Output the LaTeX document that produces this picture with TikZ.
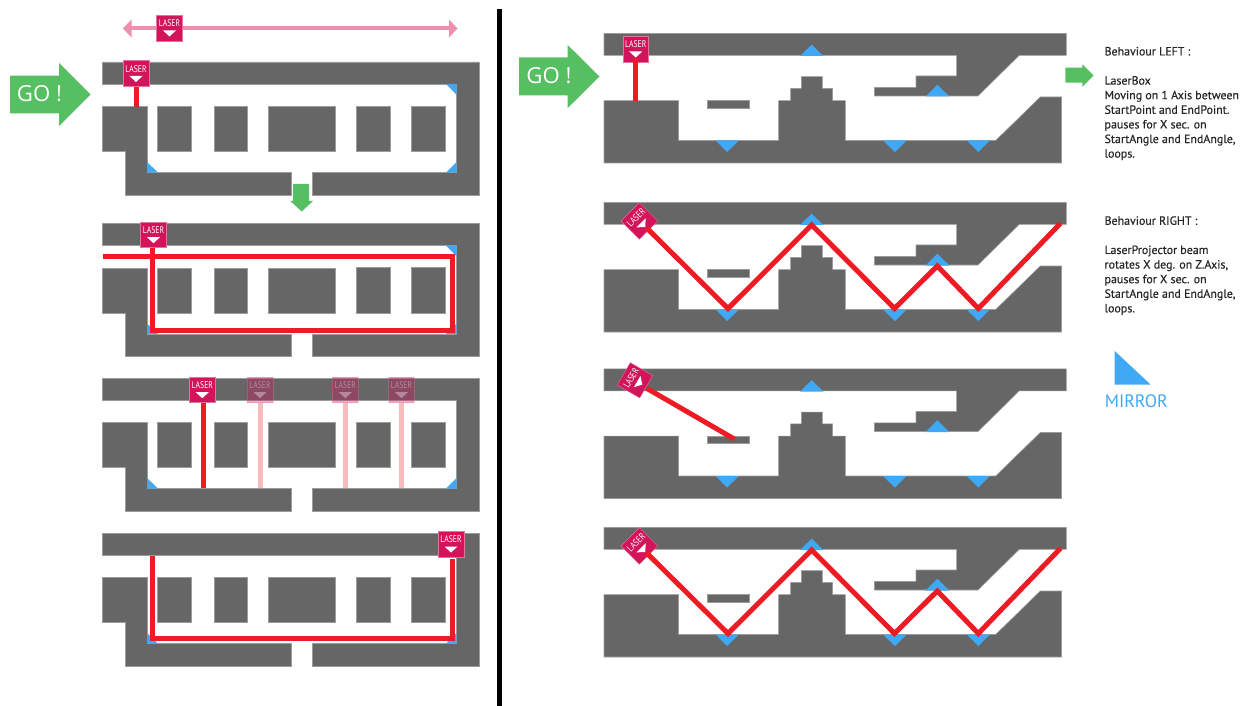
\documentclass[tikz,border=0pt]{standalone}
\usepackage{fontspec}
\setmainfont{PT Sans}
\newfontfamily\gofont{Open Sans}
\newfontfamily\notefont[FakeBold=0.45]{PT Sans}
\definecolor{wallgray}{HTML}{666666}
\definecolor{laserpink}{HTML}{D4145A}
\definecolor{beamred}{HTML}{ED1C24}
\definecolor{railpink}{HTML}{EE8FAE}
\definecolor{gogreen}{HTML}{55BF62}
\definecolor{mirrorblue}{HTML}{3FA9F5}
\tikzset{
  wall/.style={fill=wallgray,draw=wallgray!65,line width=.4pt},
  mirror/.style={fill=mirrorblue},
  beam/.style={draw=beamred,line width=3.75pt},
  ghostbeam/.style={draw=beamred!30,line width=3.75pt},
  go/.style={fill=gogreen},
  gotext/.style={text=white,font=\gofont\fontsize{16.6}{16.6}\selectfont},
  lasertext/.style={text=white,inner sep=0pt,font=\fontsize{7.2}{7.2}\selectfont},
  laserbox/.style={fill=laserpink,draw=laserpink!60,line width=.3pt,minimum size=19.4pt,inner sep=0pt},
  laser/.pic={
    \node[laserbox,transform shape] (-box) {};
    \node[lasertext,transform shape] (-txt) at (0,-4.5) {\scalebox{.8}[1]{LASER}};
    \fill[white] (-6.5,2.5)--(6.5,2.5)--(0,8.5)--cycle;
  },
  note/.style={anchor=north west,align=left,inner sep=0pt,text=black!85,
    font=\notefont\fontsize{8.95}{10.95}\selectfont}
}
\begin{document}
\begin{tikzpicture}[x=.75pt,y=-.75pt]
\useasboundingbox (0,0) rectangle (1250,706);
\draw[line width=3.75pt] (499,9)--(499,706);
% left column
\draw[railpink,line width=3pt] (128,28.5)--(452,28.5);
\fill[railpink] (123,28.5)--(131.5,19.5)--(131.5,37.5)--cycle;
\fill[railpink] (457.5,28.5)--(449,19.5)--(449,37.5)--cycle;
\pic (railbox) at (169.5,28) {laser};
\fill[go] (10,75.7)--(59,75.7)--(59,63)--(90.7,94.5)--(59,126)--(59,113.3)--(10,113.3)--cycle;
\node[gotext] (goleft) at (39.5,94) {GO !};
\foreach \dy in {0,161.5,316,471}{
\begin{scope}[shift={(0,\dy)}]
\draw[wall] (102.5,62)--(479,62)--(479,195)--(312.7,195)--(312.7,172.5)--(456.7,172.5)--(456.7,84)--(102.5,84)--cycle;
\draw[wall] (102.5,106.7)--(147,106.7)--(147,172.5)--(291,172.5)--(291,195)--(125,195)--(125,151.3)--(102.5,151.3)--cycle;
\draw[wall] (157,106.7) rectangle (191,151.3);
\draw[wall] (214,106.7) rectangle (247,151.3);
\draw[wall] (268.7,106.7) rectangle (335,151.3);
\draw[wall] (356,106) rectangle (390,151.3);
\draw[wall] (411.5,106) rectangle (445,151.3);
\fill[mirror] (147,162)--(147,172.5)--(158,172.5)--cycle;
\fill[mirror] (446,172.5)--(456.7,172.5)--(456.7,162)--cycle;
\end{scope}
}
\fill[mirror] (446,84)--(456.7,84)--(456.7,95)--cycle;
\fill[mirror] (446,245.5)--(456.7,245.5)--(456.7,256.5)--cycle;
\fill[go] (293,184)--(309,184)--(309,201)--(313,201)--(301.7,211.5)--(290.3,201)--(293,201)--cycle;
% level 1
\pic (las1) at (136,73.5) {laser};
\coordinate (end1) at (136,106.7);
\draw[beam] (las1-box.south)--(end1);
% level 2
\coordinate (in2) at (102.5,257);
\coordinate (c2a) at (452.5,257);
\coordinate (c2b) at (452.5,330);
\coordinate (c2c) at (152.7,330);
\pic (las2) at (153.5,234.7) {laser};
\draw[beam] (in2)--(c2a)--(c2b)--(c2c)--(c2c|-las2-box.south);
% level 3
\foreach \lx/\ln in {260/g1,345.3/g2,401.5/g3}{
  \pic[opacity=.35] (\ln) at (\lx,389.7) {laser};
  \coordinate (\ln end) at (\lx,488.3);
  \draw[ghostbeam] (\ln-box.south)--(\ln end);
}
\pic (las3) at (202.3,389.7) {laser};
\coordinate (end3) at (203,488.3);
\draw[beam] (end3|-las3-box.south)--(end3);
% level 4
\pic (las4) at (451,544) {laser};
\coordinate (c4a) at (452.3,638);
\coordinate (c4b) at (152,638);
\coordinate (c4c) at (152,555.7);
\coordinate (c4d) at (452.3,559);
\draw[beam] (c4d)--(c4a)--(c4b)--(c4c);
% right column
\fill[go] (519,57.3)--(567.7,57.3)--(567.7,45)--(599.5,76.5)--(567.7,108)--(567.7,95.3)--(519,95.3)--cycle;
\node[gotext] (goright) at (549,76) {GO !};
\foreach \dy in {0,169,335.5,494}{
\begin{scope}[shift={(0,\dy)}]
\draw[wall] (604,33.3)--(1066.3,33.3)--(1066.3,55.3)--(1019.3,55.3)--(978,96)--(874.3,96)--(874.3,87.3)--(916,87.3)--(916,76)--(956.7,76)--(956.7,55.3)--(604,55.3)--cycle;
\draw[wall] (604,100.7)--(678.7,100.7)--(678.7,140.5)--(778.7,140.5)--(778.7,100.7)--(790.7,100.7)--(790.7,88.3)--(801.3,88.3)--(801.3,76.7)--(822.3,76.7)--(822.3,88.3)--(832.7,88.3)--(832.7,100.7)--(845.3,100.7)--(845.3,140.5)--(995.7,140.5)--(1040.3,97)--(1061.7,97)--(1061.7,163)--(604,163)--cycle;
\draw[wall] (707.3,100.7) rectangle (749.3,108);
\fill[mirror] (800,56)--(823.3,56)--(811.7,44.7)--cycle;
\fill[mirror] (925.7,96.5)--(949.3,96.5)--(937.3,84.7)--cycle;
\fill[mirror] (715.7,140.5)--(739,140.5)--(727,152)--cycle;
\fill[mirror] (883,140.5)--(906.7,140.5)--(895,152)--cycle;
\fill[mirror] (966.7,140.5)--(990,140.5)--(978.3,152)--cycle;
\end{scope}
}
% level 1
\pic (rlas1) at (635.7,49) {laser};
\coordinate (rend1) at (635.4,100.7);
\coordinate (rstart1) at (635.4,59);
\draw[beam] (rstart1)--(rend1);
% level 2
\pic[rotate=45] (rlas2) at (639.3,221) {laser};
\coordinate (r2a) at (646.7,228);
\coordinate (r2b) at (728,308.5);
\coordinate (r2c) at (811.7,225);
\coordinate (r2d) at (894.5,308.5);
\coordinate (r2e) at (937.3,266);
\coordinate (r2f) at (978.3,308.5);
\coordinate (r2g) at (1060.5,223.3);
\draw[beam] (r2a)--(r2b)--(r2c)--(r2d)--(r2e)--(r2f)--(r2g);
% level 3
\pic[rotate=60] (rlas3) at (635,380.3) {laser};
\coordinate (r3a) at (646.7,388.3);
\coordinate (r3b) at (734.3,439);
\draw[beam] (r3a)--(r3b);
% level 4
\pic[rotate=45] (rlas4) at (639.3,546) {laser};
\coordinate (r4a) at (646.7,553);
\coordinate (r4b) at (728,633.5);
\coordinate (r4c) at (811.7,550);
\coordinate (r4d) at (894.5,633.5);
\coordinate (r4e) at (937.3,591);
\coordinate (r4f) at (978.3,633.5);
\coordinate (r4g) at (1060.5,548.3);
\draw[beam] (r4a)--(r4b)--(r4c)--(r4d)--(r4e)--(r4f)--(r4g);
% notes
\fill[go] (1065.3,67.7)--(1082.3,67.7)--(1082.3,64.3)--(1093.7,75.5)--(1082.3,86.7)--(1082.3,82.7)--(1065.3,82.7)--cycle;
\node[note] (noteleft) at (1104.3,46.7) {Behaviour LEFT :\\[10.95pt]LaserBox\\Moving on 1 Axis between\\StartPoint and EndPoint.\\pauses for X sec. on\\StartAngle and EndAngle,\\loops.};
\node[note] (noteright) at (1104.3,216) {Behaviour RIGHT :\\[10.95pt]LaserProjector beam\\rotates X deg. on Z.Axis,\\pauses for X sec. on\\StartAngle and EndAngle,\\loops.};
\fill[mirror] (1114.7,351)--(1114.7,384.7)--(1150.7,384.7)--cycle;
\node[anchor=base west,inner sep=0pt,text=mirrorblue,font=\fontsize{13.5}{13.5}\selectfont] (mirrorlabel) at (1104.5,407.3) {MIRROR};
\end{tikzpicture}
\end{document}
